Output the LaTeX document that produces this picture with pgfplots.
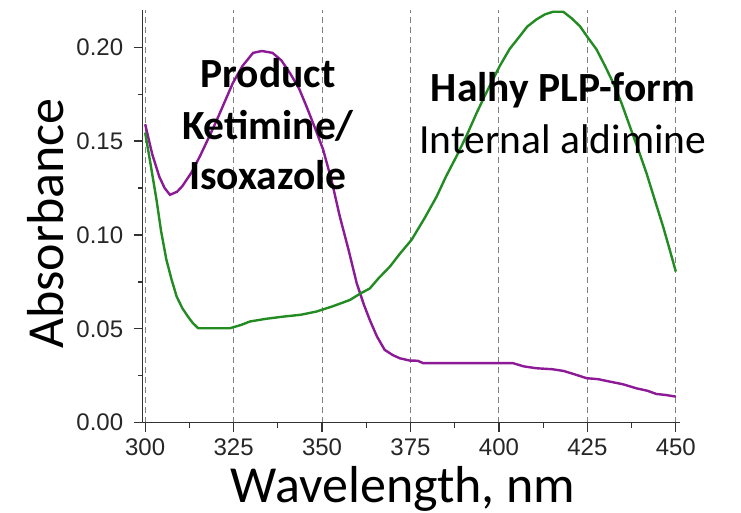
\documentclass[border=0pt]{standalone}
\usepackage{fontspec}
\setmainfont{Carlito}
\newfontfamily\tickfont{Liberation Sans}
\usepackage{pgfplots}
\pgfplotsset{compat=1.18}
\definecolor{spurple}{RGB}{140,25,150}
\definecolor{sgreen}{RGB}{34,139,34}
\begin{document}
\begin{tikzpicture}
\useasboundingbox (-142.7pt,-90.3pt) rectangle (598.3pt,422.7pt);
\begin{axis}[
    scale only axis,
    width=537pt, height=413pt,
    xmin=299.3, xmax=451.1,
    ymin=0, ymax=0.22,
    clip mode=individual,
    axis x line*=bottom,
    axis y line*=left,
    axis line style={-, line width=1.6pt, color=black!80},
    xtick={300,325,...,450},
    ytick={0,0.05,0.10,0.15,0.20},
    minor x tick num=1,
    minor y tick num=1,
    tick align=outside,
    major tick length=9pt,
    minor tick length=5pt,
    tick style={line width=1.3pt, color=black!80},
    xmajorgrids=true,
    major grid style={dashed, line width=1pt, color=black!50, dash pattern=on 6pt off 4pt},
    /pgf/number format/assume math mode=true,
    ticklabel style={font=\tickfont\fontsize{24}{24}\selectfont, color=black!85},
    yticklabel style={xshift=-7pt, /pgf/number format/.cd, fixed, fixed zerofill, precision=2},
    xticklabel style={yshift=-4pt},
    xlabel={Wavelength, nm},
    ylabel={Absorbance},
    label style={font=\fontsize{52}{52}\selectfont},
    xlabel style={at={(axis description cs:0.485,-0.194)}, anchor=base},
    ylabel style={at={(axis description cs:-0.148,0.482)}, anchor=base},
]
\addplot[spurple, line width=2.4pt] coordinates {
(300,0.159)(302,0.143)(304,0.131)(305.5,0.125)(307,0.1214)(309,0.123)(310.5,0.126)(313,0.133)
(315.5,0.142)(318,0.152)(320.2,0.161)(322.5,0.171)(324.8,0.181)(327.5,0.19)(330.5,0.197)
(333,0.198)(336,0.197)(338.5,0.193)(341,0.186)(343.5,0.178)(345.6,0.1685)(348,0.157)
(350.3,0.1455)(352.7,0.129)(355,0.11)(357.5,0.092)(359.8,0.0743)(361.8,0.063)(363.5,0.0547)
(365.5,0.046)(367.7,0.0388)(370,0.036)(372,0.0343)(374.8,0.0331)(377,0.033)(378.6,0.0317)
(390,0.0317)(404,0.0317)(407,0.030)(410.6,0.029)(415,0.0285)(418.2,0.0276)(421,0.026)
(424.8,0.0237)(428,0.0232)(431.3,0.0219)(435,0.0205)(438.9,0.0183)(442,0.017)(444.5,0.0153)
(447,0.0148)(450,0.0139)};
\addplot[sgreen, line width=2.4pt] coordinates {
(300,0.1545)(301.5,0.138)(303.2,0.1188)(304.5,0.102)(306,0.0868)(307.5,0.076)(308.9,0.0672)
(310.5,0.061)(312.1,0.0565)(313.5,0.053)(315,0.0503)(320,0.0503)(323.9,0.0503)(327,0.052)
(329.6,0.0539)(334,0.0553)(339,0.0565)(344,0.0575)(348.4,0.0592)(353,0.062)(357.9,0.0654)
(361,0.069)(363.5,0.0715)(366,0.077)(369.2,0.0832)(372,0.09)(375.3,0.0974)(379,0.109)
(382.4,0.1205)(385,0.131)(388,0.1419)(391,0.1535)(393.7,0.165)(397,0.178)(400.2,0.1899)
(403,0.199)(405.9,0.2059)(408,0.211)(410.6,0.2148)(413,0.2175)(415.3,0.2189)(418.2,0.2189)
(420.5,0.2155)(422.9,0.2112)(425,0.2055)(427.6,0.1988)(430,0.190)(432.3,0.181)(434.7,0.170)
(437,0.1579)(439.3,0.146)(441.7,0.133)(444,0.119)(446.4,0.1045)(448.3,0.092)(450,0.0805)};
\node[anchor=base, font=\bfseries\fontsize{41.5}{41.5}\selectfont] at (axis cs:334.7,0.1785) {Product};
\node[anchor=base, font=\bfseries\fontsize{41.5}{41.5}\selectfont] at (axis cs:334.7,0.1508) {Ketimine/};
\node[anchor=base, font=\bfseries\fontsize{41.5}{41.5}\selectfont] at (axis cs:334.7,0.124) {Isoxazole};
\node[anchor=base, font=\bfseries\fontsize{41.5}{41.5}\selectfont] at (axis cs:418.1,0.171) {Halhy PLP-form};
\node[anchor=base, font=\fontsize{41.5}{41.5}\selectfont] at (axis cs:418.1,0.1433) {Internal aldimine};
\end{axis}
\end{tikzpicture}
\end{document}
